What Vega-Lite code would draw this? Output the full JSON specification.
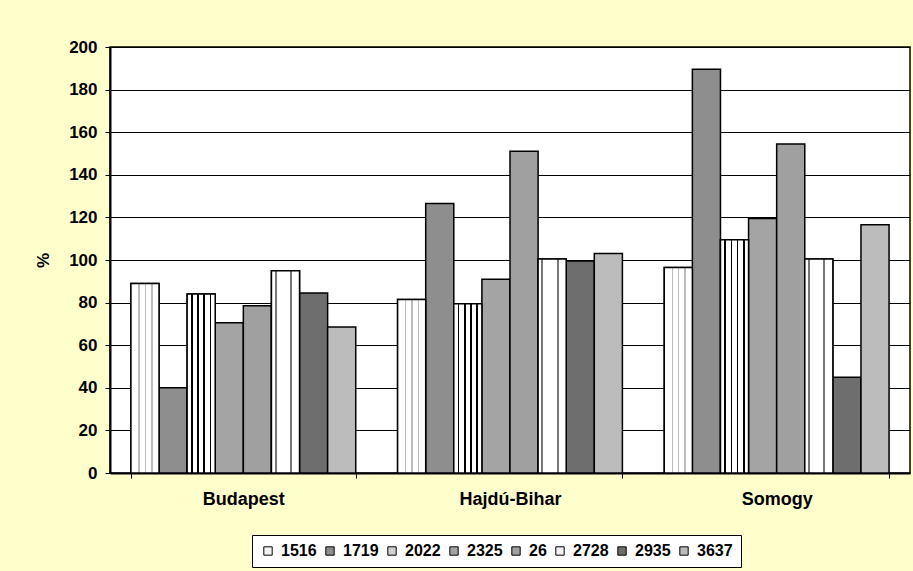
{
  "$schema": "https://vega.github.io/schema/vega-lite/v6.json",
  "width": 800,
  "height": 426,
  "autosize": {"type": "none"},
  "padding": {"left": 110, "top": 47, "right": 3, "bottom": 98},
  "background": "#FFFFCC",
  "config": {
    "view": {"fill": "white", "stroke": "black", "strokeWidth": 1.5},
    "font": "Liberation Sans",
    "axis": {
      "labelFont": "Liberation Sans", "labelFontWeight": "bold", "labelFontSize": 17, "labelColor": "black",
      "titleFont": "Liberation Sans", "titleFontWeight": "bold", "titleFontSize": 17, "titleColor": "black",
      "domainColor": "black", "domainWidth": 2, "tickColor": "black", "tickSize": 5, "tickWidth": 1,
      "gridColor": "black", "gridWidth": 1
    },
    "legend": {
      "orient": "none", "legendX": 142, "legendY": 488, "direction": "horizontal", "columns": 8,
      "symbolType": "square", "symbolSize": 70, "symbolStrokeColor": "black", "symbolStrokeWidth": 1,
      "labelFont": "Liberation Sans", "labelFontWeight": "bold", "labelFontSize": 16, "labelColor": "black",
      "labelOffset": 5, "columnPadding": 5, "padding": 8,
      "fillColor": "white", "strokeColor": "black", "strokeWidth": 1
    }
  },
  "data": {
    "values": [
      {"region": "Budapest", "series": "1516", "value": 89},
      {"region": "Budapest", "series": "1719", "value": 40},
      {"region": "Budapest", "series": "2022", "value": 84},
      {"region": "Budapest", "series": "2325", "value": 70.5},
      {"region": "Budapest", "series": "26", "value": 78.5},
      {"region": "Budapest", "series": "2728", "value": 95},
      {"region": "Budapest", "series": "2935", "value": 84.5},
      {"region": "Budapest", "series": "3637", "value": 68.5},
      {"region": "Hajdú-Bihar", "series": "1516", "value": 81.5},
      {"region": "Hajdú-Bihar", "series": "1719", "value": 126.5},
      {"region": "Hajdú-Bihar", "series": "2022", "value": 79.5},
      {"region": "Hajdú-Bihar", "series": "2325", "value": 91},
      {"region": "Hajdú-Bihar", "series": "26", "value": 151},
      {"region": "Hajdú-Bihar", "series": "2728", "value": 100.5},
      {"region": "Hajdú-Bihar", "series": "2935", "value": 99.5},
      {"region": "Hajdú-Bihar", "series": "3637", "value": 103},
      {"region": "Somogy", "series": "1516", "value": 96.5},
      {"region": "Somogy", "series": "1719", "value": 189.5},
      {"region": "Somogy", "series": "2022", "value": 109.5},
      {"region": "Somogy", "series": "2325", "value": 119.5},
      {"region": "Somogy", "series": "26", "value": 154.5},
      {"region": "Somogy", "series": "2728", "value": 100.5},
      {"region": "Somogy", "series": "2935", "value": 45},
      {"region": "Somogy", "series": "3637", "value": 116.5}
    ]
  },
  "encoding": {
    "x": {
      "field": "region", "type": "nominal", "sort": ["Budapest", "Hajdú-Bihar", "Somogy"],
      "scale": {"paddingInner": 0.157, "paddingOuter": 0.0785},
      "axis": {"title": null, "labelAngle": 0, "tickBand": "extent", "grid": false, "labelPadding": 12, "labelFontSize": 18}
    },
    "xOffset": {
      "field": "series", "type": "nominal",
      "sort": ["1516", "1719", "2022", "2325", "26", "2728", "2935", "3637"],
      "scale": {"domain": ["1516", "1719", "2022", "2325", "26", "2728", "2935", "3637"], "paddingInner": 0, "paddingOuter": 0}
    },
    "y": {
      "field": "value", "type": "quantitative",
      "scale": {"domain": [0, 200], "nice": false},
      "axis": {"title": "%", "values": [0, 20, 40, 60, 80, 100, 120, 140, 160, 180, 200], "labelPadding": 8, "titlePadding": 16, "grid": true}
    }
  },
  "layer": [
    {
      "mark": {"type": "bar", "stroke": "black", "strokeWidth": 1.5},
      "encoding": {
        "fill": {
          "field": "series", "type": "nominal",
          "scale": {
            "domain": ["1516", "1719", "2022", "2325", "26", "2728", "2935", "3637"],
            "range": ["#f4f4f4", "#8e8e8e", "#d0d0d0", "#a4a4a4", "#a0a0a0", "#f2f2f2", "#6e6e6e", "#bcbcbc"]
          },
          "legend": {"title": null}
        }
      }
    },
    {
      "transform": [{"filter": "datum.series == '2022'"}],
      "mark": {
        "type": "bar", "stroke": "black", "strokeWidth": 1.5,
        "fill": {
          "gradient": "linear", "x1": 0, "y1": 0, "x2": 1, "y2": 0,
          "stops": [
            {"offset": 0, "color": "white"}, {"offset": 0.14, "color": "white"},
            {"offset": 0.14, "color": "black"}, {"offset": 0.2, "color": "black"},
            {"offset": 0.2, "color": "white"}, {"offset": 0.36, "color": "white"},
            {"offset": 0.36, "color": "black"}, {"offset": 0.42, "color": "black"},
            {"offset": 0.42, "color": "white"}, {"offset": 0.58, "color": "white"},
            {"offset": 0.58, "color": "black"}, {"offset": 0.64, "color": "black"},
            {"offset": 0.64, "color": "white"}, {"offset": 0.8, "color": "white"},
            {"offset": 0.8, "color": "black"}, {"offset": 0.86, "color": "black"},
            {"offset": 0.86, "color": "white"}, {"offset": 1, "color": "white"}
          ]
        }
      }
    },
    {
      "transform": [{"filter": "datum.series == '2728'"}],
      "mark": {
        "type": "bar", "stroke": "black", "strokeWidth": 1.5,
        "fill": {
          "gradient": "linear", "x1": 0, "y1": 0, "x2": 1, "y2": 0,
          "stops": [
            {"offset": 0, "color": "white"}, {"offset": 0.12, "color": "white"},
            {"offset": 0.12, "color": "#777777"}, {"offset": 0.19, "color": "#777777"},
            {"offset": 0.19, "color": "white"}, {"offset": 0.66, "color": "white"},
            {"offset": 0.66, "color": "#777777"}, {"offset": 0.73, "color": "#777777"},
            {"offset": 0.73, "color": "white"}, {"offset": 1, "color": "white"}
          ]
        }
      }
    },
    {
      "transform": [{"filter": "datum.series == '1516'"}],
      "mark": {
        "type": "bar", "stroke": "black", "strokeWidth": 1.5,
        "fill": {
          "gradient": "linear", "x1": 0, "y1": 0, "x2": 1, "y2": 0,
          "stops": [
            {"offset": 0, "color": "white"}, {"offset": 0.26, "color": "white"},
            {"offset": 0.26, "color": "#bbbbbb"}, {"offset": 0.31, "color": "#bbbbbb"},
            {"offset": 0.31, "color": "white"}, {"offset": 0.49, "color": "white"},
            {"offset": 0.49, "color": "#bbbbbb"}, {"offset": 0.54, "color": "#bbbbbb"},
            {"offset": 0.54, "color": "white"}, {"offset": 0.72, "color": "white"},
            {"offset": 0.72, "color": "#bbbbbb"}, {"offset": 0.77, "color": "#bbbbbb"},
            {"offset": 0.77, "color": "white"}, {"offset": 1, "color": "white"}
          ]
        }
      }
    }
  ]
}
